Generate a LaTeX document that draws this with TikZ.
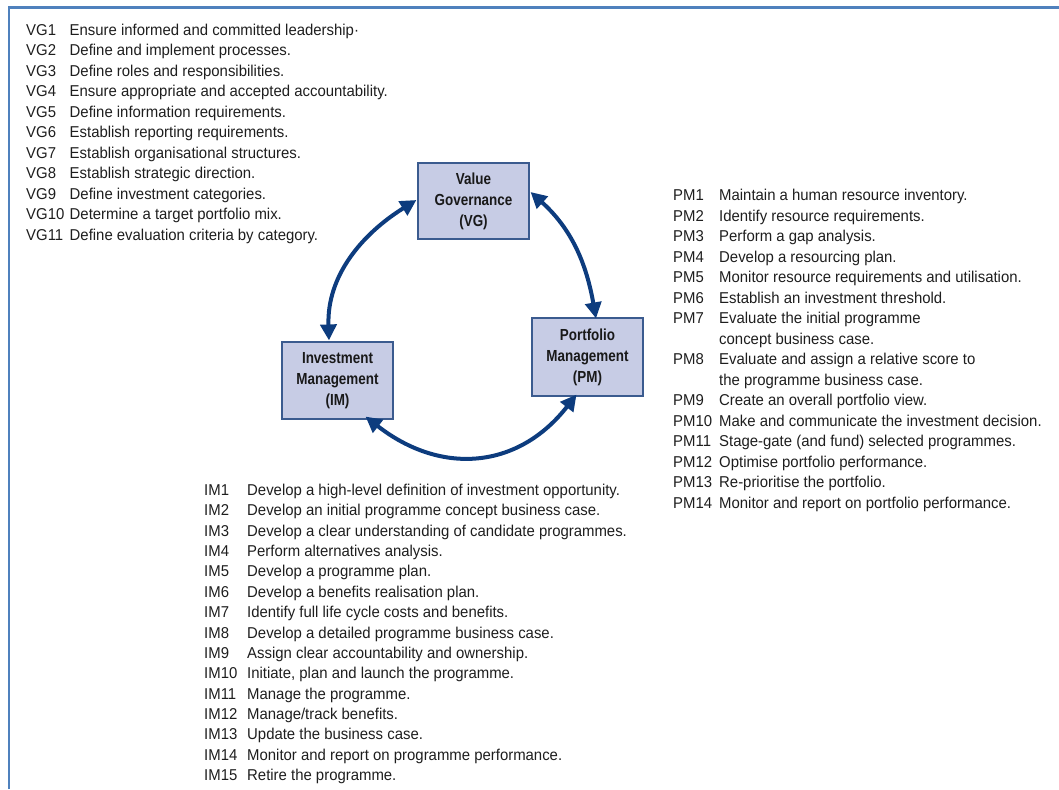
\documentclass[tikz,border=0pt]{standalone}
\usepackage{fontspec}
\setmainfont{Liberation Sans}
\newfontfamily\boxfont[FakeStretch=0.84]{Liberation Sans}
\newfontfamily\listfont[FakeStretch=0.95]{Liberation Sans}
\usetikzlibrary{arrows.meta}
\definecolor{frameblue}{HTML}{4F81BD}
\definecolor{boxfill}{HTML}{C7CCE5}
\definecolor{boxline}{HTML}{3B5B8F}
\definecolor{arrowblue}{HTML}{0D3C7E}
\definecolor{txt}{HTML}{1E1E1E}
\tikzset{
  listlab/.style={anchor=base west, inner sep=0pt, text=txt, font=\listfont\fontsize{15.7}{18}\selectfont},
  listtxt/.style={anchor=base west, inner sep=0pt, text=txt, font=\listfont\fontsize{15.7}{18}\selectfont},
  mainbox/.style={draw=boxline, line width=1.1pt, fill=boxfill, minimum width=111pt, inner sep=0pt, align=center, text=black!90, font=\boxfont\bfseries\fontsize{16}{21}\selectfont},
  cyc/.style={draw=arrowblue, line width=4pt, {Triangle[length=16pt,width=16pt]}-{Triangle[length=16pt,width=16pt]}},
  framelin/.style={draw=frameblue, line width=2.6pt}
}
\begin{document}
\begin{tikzpicture}[x=1pt,y=-1pt]
\useasboundingbox (0,0) rectangle (1059,789);
% frame
\coordinate (fl) at (8.8,789);
\coordinate (fc) at (8.8,7.8);
\coordinate (fr) at (1059,7.8);
\draw[framelin] (fl) -- (fc) -- (fr);
% boxes
\node[mainbox, minimum height=76pt] (vg) at (473.5,201) {Value\\Governance\\(VG)};
\node[mainbox, minimum height=77pt] (im) at (337.5,380.5) {Investment\\Management\\(IM)};
\node[mainbox, minimum height=78pt] (pm) at (587.5,357) {Portfolio\\Management\\(PM)};
% cycle arrows
\draw[cyc] ([xshift=-8.5pt,yshift=1pt]im.north) to[out=92,in=212] ([xshift=-1pt,yshift=1pt]vg.west);
\draw[cyc] ([xshift=1pt,yshift=9pt]vg.east) to[out=-42,in=100] ([xshift=8.5pt,yshift=-1pt]pm.north);
\draw[cyc] ([xshift=28pt,yshift=3pt]im.south) to[out=-38,in=232,looseness=1.15] ([xshift=-11pt,yshift=2pt]pm.south);
% VG list
\foreach \lab/\txt [count=\i] in {
VG1/Ensure informed and committed leadership·,
VG2/Define and implement processes.,
VG3/Define roles and responsibilities.,
VG4/Ensure appropriate and accepted accountability.,
VG5/Define information requirements.,
VG6/Establish reporting requirements.,
VG7/Establish organisational structures.,
VG8/Establish strategic direction.,
VG9/Define investment categories.,
VG10/Determine a target portfolio mix.,
VG11/Define evaluation criteria by category.}{
  \node[listlab] (vgl\i) at (26,{35.5+20.45*(\i-1)}) {\lab};
  \node[listtxt] (vgt\i) at (69.5,{35.5+20.45*(\i-1)}) {\txt};
}
% PM list
\foreach \lab/\txt/\row [count=\i] in {
PM1/Maintain a human resource inventory./0,
PM2/Identify resource requirements./1,
PM3/Perform a gap analysis./2,
PM4/Develop a resourcing plan./3,
PM5/Monitor resource requirements and utilisation./4,
PM6/Establish an investment threshold./5,
PM7/Evaluate the initial programme/6,
/concept business case./7,
PM8/Evaluate and assign a relative score to/8,
/the programme business case./9,
PM9/Create an overall portfolio view./10,
PM10/Make and communicate the investment decision./11,
PM11/Stage-gate (and fund) selected programmes./12,
PM12/Optimise portfolio performance./13,
PM13/Re-prioritise the portfolio./14,
PM14/Monitor and report on portfolio performance./15}{
  \node[listlab] (pml\i) at (673,{200.5+20.5*\row}) {\lab};
  \node[listtxt] (pmt\i) at (719,{200.5+20.5*\row}) {\txt};
}
% IM list
\foreach \lab/\txt [count=\i] in {
IM1/Develop a high-level definition of investment opportunity.,
IM2/Develop an initial programme concept business case.,
IM3/Develop a clear understanding of candidate programmes.,
IM4/Perform alternatives analysis.,
IM5/Develop a programme plan.,
IM6/Develop a benefits realisation plan.,
IM7/Identify full life cycle costs and benefits.,
IM8/Develop a detailed programme business case.,
IM9/Assign clear accountability and ownership.,
IM10/{Initiate, plan and launch the programme.},
IM11/Manage the programme.,
IM12/{Manage/track benefits.},
IM13/Update the business case.,
IM14/Monitor and report on programme performance.,
IM15/Retire the programme.}{
  \node[listlab] (iml\i) at (204,{495.5+20.36*(\i-1)}) {\lab};
  \node[listtxt] (imt\i) at (247,{495.5+20.36*(\i-1)}) {\txt};
}
\end{tikzpicture}
\end{document}
